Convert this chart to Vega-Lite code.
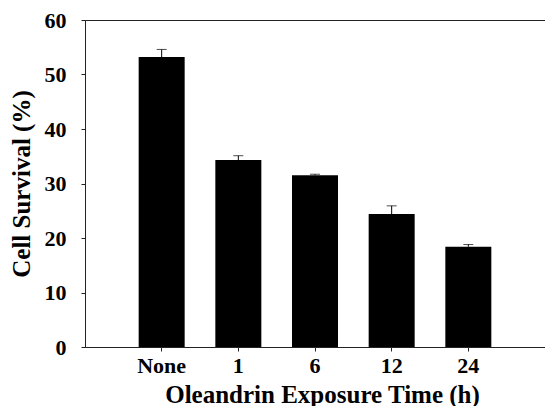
{
  "$schema": "https://vega.github.io/schema/vega-lite/v6.json",
  "width": 460,
  "height": 327,
  "autosize": {"type": "none"},
  "padding": {"left": 85, "top": 20, "right": 0, "bottom": 59},
  "background": "white",
  "config": {
    "view": {"stroke": "#222", "strokeWidth": 1},
    "font": "Liberation Serif",
    "axis": {
      "labelFont": "Liberation Serif",
      "titleFont": "Liberation Serif",
      "labelFontWeight": "bold",
      "titleFontWeight": "bold",
      "labelColor": "black",
      "titleColor": "black",
      "domainColor": "#222",
      "tickColor": "#222",
      "grid": false
    }
  },
  "data": {
    "values": [
      {"time": "None", "survival": 53.2, "upper": 54.6},
      {"time": "1", "survival": 34.3, "upper": 35.1},
      {"time": "6", "survival": 31.5, "upper": 31.7},
      {"time": "12", "survival": 24.4, "upper": 25.9},
      {"time": "24", "survival": 18.4, "upper": 18.8}
    ]
  },
  "encoding": {
    "x": {
      "field": "time",
      "type": "nominal",
      "sort": null,
      "scale": {"paddingInner": 0.4, "paddingOuter": 0.7},
      "axis": {
        "title": "Oleandrin Exposure Time (h)",
        "labelAngle": 0,
        "labelFontSize": 22,
        "titleFontSize": 25,
        "tickSize": 4,
        "labelPadding": 4,
        "titlePadding": 6,
        "titleX": 237
      }
    }
  },
  "layer": [
    {
      "mark": {"type": "bar", "color": "black"},
      "encoding": {
        "y": {
          "field": "survival",
          "type": "quantitative",
          "scale": {"domain": [0, 60]},
          "axis": {
            "title": "Cell Survival (%)",
            "values": [0, 10, 20, 30, 40, 50, 60],
            "labelFontSize": 22,
            "titleFontSize": 25,
            "tickSize": 4,
            "labelPadding": 15,
            "titlePadding": 10
          }
        }
      }
    },
    {
      "mark": {"type": "rule", "color": "black", "strokeWidth": 1},
      "encoding": {
        "y": {"field": "survival", "type": "quantitative"},
        "y2": {"field": "upper"}
      }
    },
    {
      "mark": {"type": "tick", "color": "black", "size": 10, "thickness": 1},
      "encoding": {
        "y": {"field": "upper", "type": "quantitative"}
      }
    }
  ]
}
